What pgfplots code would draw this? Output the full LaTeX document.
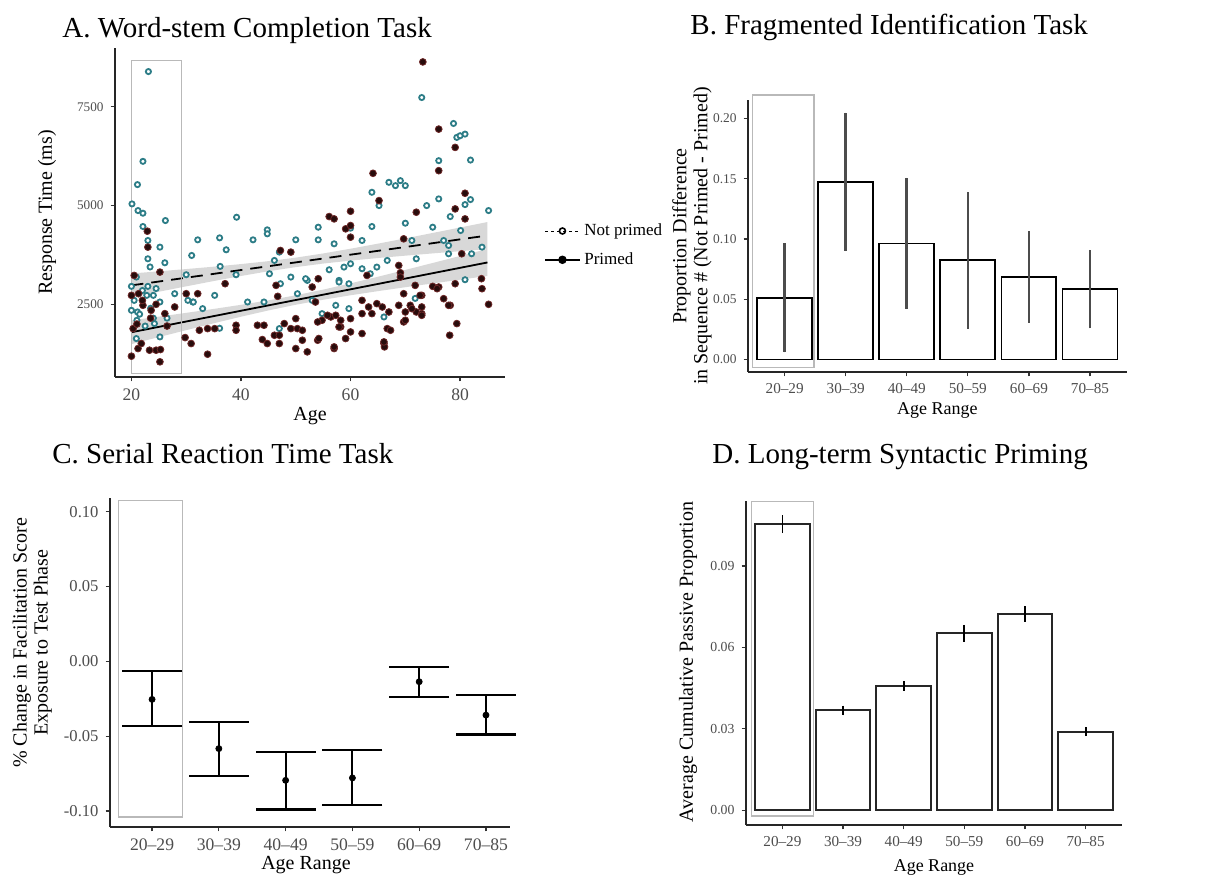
\documentclass[border=0pt]{standalone}
\usepackage{fontspec}
\setmainfont{Liberation Serif}
\usepackage{pgfplots}
\usepackage{pgfplotstable}
\pgfplotsset{compat=1.18}
\usepgfplotslibrary{fillbetween}
\definecolor{tealc}{RGB}{45,125,135}
\definecolor{darkp}{RGB}{40,12,12}
\definecolor{darkpe}{RGB}{110,40,40}
\definecolor{rectc}{RGB}{185,185,185}
\definecolor{tickc}{RGB}{77,77,77}

\pgfplotstableread{
age rt
23.1 8393
21.1 5531
22.1 6120
20.1 5042
21.2 4874
22.1 4807
22.1 4470
23.0 4116
23.0 3653
26.2 4621
25.2 3948
26.1 3552
20.0 2955
20.9 3190
23.0 2955
24.0 2727
20.0 2348
21.1 2306
25.2 2559
27.9 2769
21.0 2096
24.2 2012
25.2 1675
20.9 1633
30.0 3249
30.3 2601
31.2 2559
32.1 4133
31.0 3737
33.0 2391
35.2 2727
36.1 4183
36.2 3460
37.3 3881
39.2 4705
39.1 3249
41.2 2559
42.2 4133
44.2 2559
44.8 4386
44.8 4285
46.1 3611
47.0 3822
45.2 3274
47.2 3022
47.0 1885
49.1 3190
50.0 4133
50.3 2769
52.1 3106
53.0 2601
54.1 4453
54.1 4133
54.8 2264
56.1 3375
57.0 4032
57.3 2475
57.9 3106
58.8 3443
60.0 3527
59.7 3022
59.7 2391
59.1 1633
60.0 4428
62.1 4116
62.1 3401
63.9 5337
63.9 4470
65.2 5000
64.8 3443
63.6 3274
66.1 2180
66.7 3611
67.0 5589
68.2 5505
69.1 5631
70.0 5505
70.0 4554
71.2 4116
72.0 3653
73.0 7736
73.9 5000
75.0 4453
76.1 6137
76.1 5169
77.0 4116
77.9 3780
78.2 4722
78.8 7079
79.4 6726
80.0 6768
80.9 6810
80.9 3123
80.9 5025
81.9 6153
81.9 5152
80.1 4369
84.0 3948
85.2 4874
36.1 1894
23.4 3446
22.8 2727
82.1 3780
77.9 3990
71.8 2650
57.9 3064
51.8 3149
31.3 2558
20.5 2600
22.0 2850
24.5 2900
21.5 2250
23.5 2400
26.5 2150
22.5 1950
24.0 2150
}\notprimed

\pgfplotstableread{
age rt
73.2 8637
76.1 6936
79.1 6473
76.1 5884
64.1 5817
65.2 5126
60.0 4857
56.1 4722
57.0 4663
59.1 4411
60.0 4200
72.0 4832
79.1 4916
80.9 5312
80.9 4663
69.7 4158
22.9 4352
23.0 3948
20.5 3232
25.2 3316
20.0 2727
21.3 2769
22.1 2475
23.6 2348
26.1 2264
27.9 2433
20.3 1885
21.2 1380
21.8 1507
23.3 1338
24.5 1338
25.3 1355
25.2 1044
20.0 1187
30.0 2769
32.1 2769
29.8 1658
30.9 1507
32.4 1843
33.9 1885
35.2 1885
33.9 1237
37.1 3022
39.1 1970
39.1 1843
43.0 1970
44.2 1970
43.9 1608
44.8 1507
46.1 1717
47.0 1717
47.0 1507
47.9 2012
47.2 3864
49.1 3822
46.4 2980
46.7 2702
50.0 2138
49.1 1885
50.3 1885
51.2 1843
50.0 1380
51.2 1591
52.1 1296
53.0 2938
54.1 3148
54.0 1591
54.8 2096
56.4 2180
57.3 2222
57.0 1380
58.2 1928
58.2 2096
60.0 2138
60.0 1801
62.1 2601
62.1 2264
63.0 3232
63.3 2433
63.9 2264
64.8 2517
66.1 1507
66.2 1422
66.7 1885
67.0 2306
68.8 3485
68.8 2475
69.7 2769
69.7 2054
70.0 2306
70.9 2475
72.0 2306
73.0 2727
73.0 2433
73.0 2264
71.8 2980
75.0 2955
76.1 2938
77.0 2643
78.2 2475
78.1 1717
79.1 3022
79.4 2012
80.3 3780
84.0 2896
85.2 2500
69.1 3300
69.1 3190
53.6 2558
54.0 2053
55.8 2222
57.9 1927
59.1 1634
62.1 1760
65.8 2432
67.3 1843
70.0 2096
71.2 2390
73.0 2222
72.7 2727
75.8 2896
77.9 2475
83.9 3149
66.1 1549
54.2 1634
57.0 1422
60.0 4495
22.0 2600
23.5 2150
21.0 2000
24.5 2500
26.5 1950
}\primed

\pgfplotstableread{
age npm npu npl pm pu pl
20 2980 3280 2680 1793 2093 1493
25 3077 3336 2818 1929 2188 1670
30 3174 3393 2955 2065 2284 1846
35 3271 3453 3089 2201 2383 2019
40 3368 3519 3217 2337 2488 2186
45 3465 3593 3337 2473 2601 2345
50 3562 3682 3442 2609 2729 2489
55 3660 3788 3532 2744 2872 2616
60 3757 3908 3606 2880 3031 2729
65 3854 4036 3672 3016 3198 2834
70 3951 4170 3732 3152 3371 2933
75 4048 4307 3789 3288 3547 3029
80 4145 4445 3845 3424 3724 3124
85 4242 4584 3900 3560 3902 3218
}\fits

\pgfplotstableread{
c v e
1 0.0512 0.0453
2 0.1474 0.0574
3 0.0963 0.0545
4 0.0824 0.0567
5 0.0686 0.0380
6 0.0584 0.0325
}\Bdata

\pgfplotstableread{
c v lo hi ep em
1 -0.0254 -0.0433 -0.0063 0.0191 0.0179
2 -0.0583 -0.0766 -0.0404 0.0179 0.0183
3 -0.0795 -0.0989 -0.0605 0.0190 0.0194
4 -0.0779 -0.0958 -0.0594 0.0185 0.0179
5 -0.0136 -0.0237 -0.0036 0.0100 0.0101
6 -0.0359 -0.0489 -0.0225 0.0134 0.0130
}\Cdata

\pgfplotstableread{
c v e
1 0.1054 0.0033
2 0.0368 0.0018
3 0.0458 0.0018
4 0.0652 0.0031
5 0.0724 0.0029
6 0.0290 0.0017
}\Ddata

\pgfplotsset{
 panel/.style={
  scale only axis, anchor=south west,
  axis x line*=bottom, axis y line*=left,
  axis line style={-, line width=0.9pt, black!85},
  tick align=outside, major tick length=2.2pt,
  tick style={black!80, line width=0.6pt},
  xticklabel style={text=tickc},
  yticklabel style={text=tickc},
  ylabel style={font=\fontsize{10}{10.5}\selectfont},
  /pgf/number format/assume math mode=true,
  clip=false,
 },
 catpanel/.style={panel, xmin=0.4, xmax=6.6, xtick={1,...,6},
  xticklabels={20--29,30--39,40--49,50--59,60--69,70--85},
  yticklabel style={/pgf/number format/fixed, /pgf/number format/fixed zerofill, /pgf/number format/precision=2}},
}
\tikzset{ttl/.style={anchor=base west, inner sep=0pt, font=\fontsize{14.5}{15}\selectfont}}

\begin{document}
\begin{tikzpicture}
\path (0,0) rectangle (604pt,438.5pt);

\node[ttl] at (31pt,419.5pt) {A. Word-stem Completion Task};
\node[ttl] at (345pt,421pt) {B. Fragmented Identification Task};
\node[ttl] at (26pt,207pt) {C. Serial Reaction Time Task};
\node[ttl] at (356pt,207pt) {D. Long-term Syntactic Priming};

% Panel A
\begin{axis}[panel, at={(57.5pt,250pt)}, width=195pt, height=164.5pt,
 xmin=17, xmax=88.2, ymin=660, ymax=8990,
 xtick={20,40,60,80}, ytick={2500,5000,7500},
 xticklabel style={font=\fontsize{8.8}{9}\selectfont},
 yticklabel style={font=\fontsize{6.6}{7}\selectfont, /pgf/number format/1000 sep={}},
 xlabel={Age}, ylabel={Response Time (ms)},
 xlabel style={font=\fontsize{10}{11}\selectfont, at={(axis description cs:0.5,-0.12)}, anchor=center},
 ylabel style={at={(axis description cs:-0.174,0.5)}, anchor=center},
 legend style={at={(axis description cs:1.085,0.40)}, anchor=west, draw=none, fill=none,
   font=\fontsize{8.5}{9}\selectfont, row sep=3pt},
 legend cell align=left,
]
\addplot[only marks, mark=*, mark size=1.3pt, mark options={draw=tealc, fill=white, line width=0.9pt}, forget plot] table[x=age,y=rt] {\notprimed};
\addplot[only marks, mark=*, mark size=1.7pt, mark options={draw=darkpe, fill=darkp, line width=0.4pt}, forget plot] table[x=age,y=rt] {\primed};
\addplot[draw=none, name path=npu, forget plot] table[x=age,y=npu] {\fits};
\addplot[draw=none, name path=npl, forget plot] table[x=age,y=npl] {\fits};
\addplot[draw=none, name path=pu, forget plot] table[x=age,y=pu] {\fits};
\addplot[draw=none, name path=pl, forget plot] table[x=age,y=pl] {\fits};
\addplot[fill=black!30, fill opacity=0.5, draw=none, forget plot] fill between[of=npu and npl];
\addplot[fill=black!30, fill opacity=0.5, draw=none, forget plot] fill between[of=pu and pl];
\addplot[black, line width=0.9pt, dash pattern=on 6pt off 4pt, forget plot] table[x=age,y=npm] {\fits};
\addplot[black, line width=0.9pt, forget plot] table[x=age,y=pm] {\fits};
\draw[rectc, line width=0.6pt] (axis cs:20,749) rectangle (axis cs:29.2,8679);
\addlegendimage{black, line width=0.5pt, dash pattern=on 1.5pt off 1.5pt, mark=o, mark size=1.5pt, mark options={solid, line width=0.8pt}}
\addlegendentry{Not primed}
\addlegendimage{black, line width=0.8pt, mark=*, mark size=1.7pt}
\addlegendentry{Primed}
\end{axis}

% Panel B
\begin{axis}[catpanel, at={(374pt,252.5pt)}, width=189.3pt, height=136pt,
 ymin=-0.0103, ymax=0.2153, ytick={0,0.05,0.1,0.15,0.2},
 xticklabel style={font=\fontsize{7.6}{8}\selectfont},
 yticklabel style={font=\fontsize{6.7}{7}\selectfont},
 xlabel={Age Range}, ylabel={Proportion Difference\\in Sequence \# (Not Primed - Primed)},
 xlabel style={font=\fontsize{9}{10}\selectfont, at={(axis description cs:0.5,-0.14)}, anchor=center},
 ylabel style={at={(axis description cs:-0.148,0.5)}, anchor=center, align=center},
]
\draw[rectc, line width=0.6pt] (axis cs:0.48,-0.0066) rectangle (axis cs:1.48,0.2194);
\addplot[ybar, bar width=0.9, draw=black, line width=0.9pt, fill=white, mark=none,
  error bars/.cd, y dir=both, y explicit, error mark=none,
  error bar style={black!70, line width=1.3pt}] table[x=c,y=v,y error=e] {\Bdata};
\end{axis}

% Panel C
\begin{axis}[catpanel, at={(55pt,25pt)}, width=200pt, height=164.5pt,
 xmin=0.37, xmax=6.36,
 ymin=-0.1107, ymax=0.1092, ytick={-0.1,-0.05,0,0.05,0.1},
 xticklabel style={font=\fontsize{8.8}{9}\selectfont},
 yticklabel style={font=\fontsize{8.3}{9}\selectfont},
 xlabel={Age Range}, ylabel={\% Change in Facilitation Score\\Exposure to Test Phase},
 xlabel style={font=\fontsize{10}{11}\selectfont, at={(axis description cs:0.49,-0.117)}, anchor=center},
 ylabel style={at={(axis description cs:-0.194,0.56)}, anchor=center, align=center},
]
\draw[rectc, line width=0.6pt] (axis cs:0.5,-0.104) rectangle (axis cs:1.46,0.1074);
\addplot[only marks, mark=*, mark size=1.5pt, black, error bars/.cd, y dir=both, y explicit, error mark=none,
  error bar style={black, line width=1pt}] table[x=c,y=v,y error plus=ep,y error minus=em] {\Cdata};
\addplot[only marks, mark=-, mark size=15pt, mark options={line width=1.2pt, black}] table[x=c,y=lo] {\Cdata};
\addplot[only marks, mark=-, mark size=15pt, mark options={line width=1.2pt, black}] table[x=c,y=hi] {\Cdata};
\end{axis}

% Panel D
\begin{axis}[catpanel, at={(373pt,26pt)}, width=188pt, height=162pt,
 ymin=-0.0054, ymax=0.1139, ytick={0,0.03,0.06,0.09},
 xticklabel style={font=\fontsize{7.6}{8}\selectfont},
 yticklabel style={font=\fontsize{6.9}{7}\selectfont},
 xlabel={Age Range}, ylabel={Average Cumulative Passive Proportion},
 xlabel style={font=\fontsize{9}{10}\selectfont, at={(axis description cs:0.5,-0.13)}, anchor=center},
 ylabel style={at={(axis description cs:-0.154,0.503)}, anchor=center},
]
\draw[rectc, line width=0.6pt] (axis cs:0.49,-0.0021) rectangle (axis cs:1.51,0.1137);
\addplot[ybar, bar width=0.9, draw=black!85, line width=1pt, fill=white, mark=none,
  error bars/.cd, y dir=both, y explicit, error mark=none,
  error bar style={black, line width=0.9pt}] table[x=c,y=v,y error=e] {\Ddata};
\end{axis}
\end{tikzpicture}
\end{document}
